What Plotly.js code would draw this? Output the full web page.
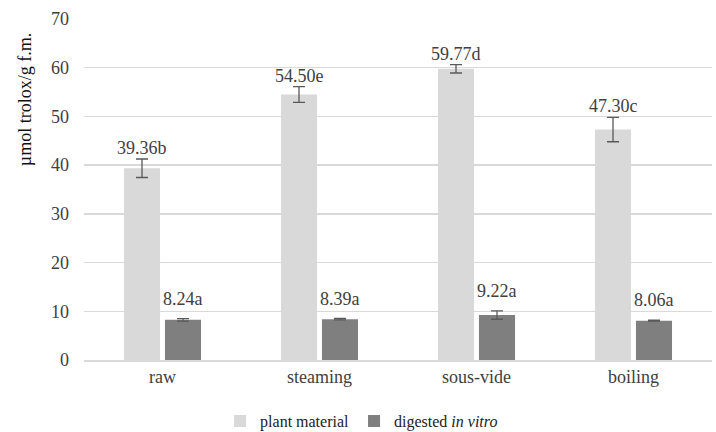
<!DOCTYPE html>
<html><head><meta charset="utf-8">
<script src="https://cdn.plot.ly/plotly-3.0.1.min.js"></script>
<style>body{margin:0;background:#fff}#c{width:716px;height:432px}</style>
</head><body><div id="c"></div>
<script>
const categories = ["raw", "steaming", "sous-vide", "boiling"];
const plantValues = [39.36, 54.50, 59.77, 47.30];
const plantErrors = [1.9, 1.6, 0.85, 2.5];
const plantLabels = ["39.36b", "54.50e", "59.77d", "47.30c"];
const digestedValues = [8.24, 8.39, 9.22, 8.06];
const digestedErrors = [0.25, 0.15, 0.85, 0.1];
const digestedLabels = ["8.24a", "8.39a", "9.22a", "8.06a"];
const yTitle = "µmol trolox/g f.m.";

const font = "Liberation Serif";
const traces = [
  {type:"bar", name:"plant material", x:categories, y:plantValues,
   marker:{color:"#d9d9d9"},
   error_y:{type:"data", array:plantErrors, visible:true, color:"#595959", thickness:1.3, width:6}},
  {type:"bar", name:"digested <i>in vitro</i>", x:categories, y:digestedValues,
   marker:{color:"#7f7f7f"},
   error_y:{type:"data", array:digestedErrors, visible:true, color:"#595959", thickness:1.3, width:6}}
];
const annotations = [];
categories.forEach((c,i)=>{
  annotations.push({x:c, y:plantValues[i]+plantErrors[i], xref:"x", yref:"y", text:plantLabels[i],
    showarrow:false, yanchor:"bottom", xshift:-20.5, yshift:-1, font:{family:font, size:18, color:"#404040"}});
  annotations.push({x:c, y:digestedValues[i]+digestedErrors[i]+1.6, xref:"x", yref:"y", text:digestedLabels[i],
    showarrow:false, yanchor:"bottom", xshift:20.5, yshift:0, font:{family:font, size:18, color:"#404040"}});
});
annotations.push({xref:"paper", yref:"paper", x:0, y:0.762, xshift:-59, textangle:-90,
  text:yTitle, showarrow:false, xanchor:"center", yanchor:"middle",
  font:{family:font, size:18, color:"#111"}});
const layout = {
  width:716, height:432,
  margin:{l:84, r:4, t:19, b:72},
  paper_bgcolor:"#fff", plot_bgcolor:"#fff",
  barmode:"group", bargap:0.478, bargroupgap:0.12,
  font:{family:font, size:18, color:"#404040"},
  xaxis:{showgrid:false, showline:true, linecolor:"#d9d9d9", linewidth:1.5, ticks:"",
    tickfont:{family:font, size:18, color:"#404040"}, automargin:false},
  yaxis:{range:[0,70], dtick:10, showgrid:true, gridcolor:"#d9d9d9", gridwidth:1.5, zeroline:false,
    ticks:"", tickfont:{family:font, size:18, color:"#404040"}, ticklabelstandoff:14, automargin:false},
  showlegend:true,
  legend:{orientation:"h", xref:"container", yref:"container", x:0.505, xanchor:"center", y:0.025, yanchor:"middle",
    font:{family:font, size:16, color:"#222"}, itemwidth:30, tracegroupgap:0, traceorder:"normal"},
  annotations:annotations
};
Plotly.newPlot("c", traces, layout, {displayModeBar:false, staticPlot:true});
</script></body></html>
